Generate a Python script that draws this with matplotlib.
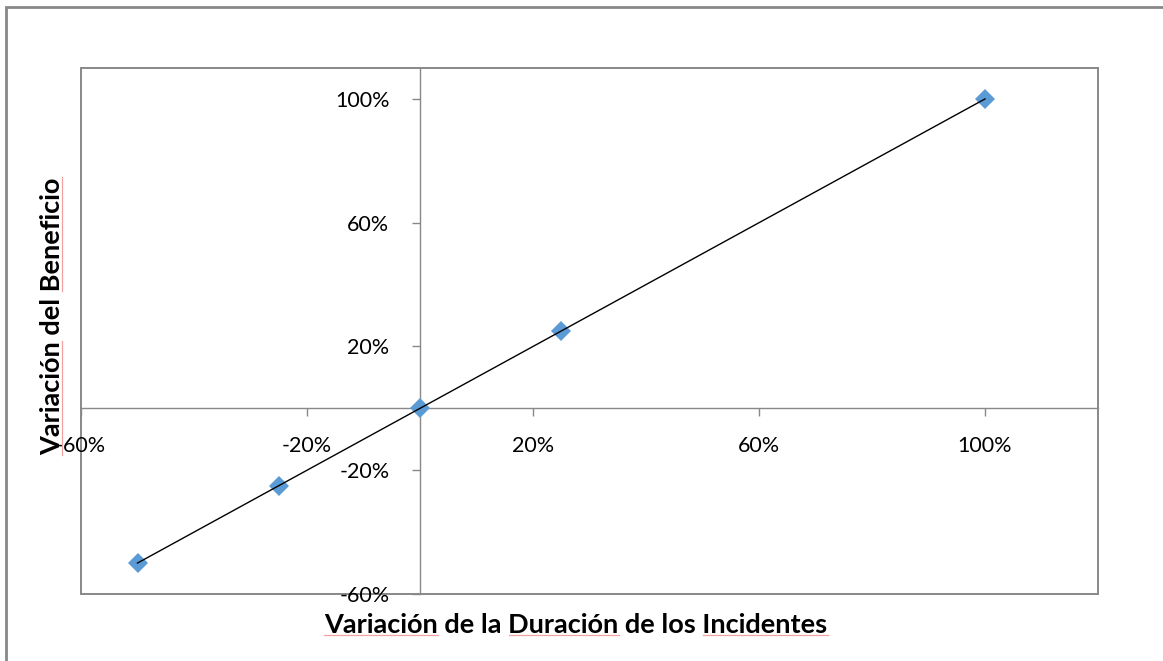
import matplotlib
matplotlib.use('Agg')
import matplotlib.pyplot as plt
from matplotlib.patches import Rectangle
from matplotlib.lines import Line2D
from matplotlib.transforms import IdentityTransform
from matplotlib.ticker import FixedLocator, FuncFormatter

# Data: relative change in incident duration vs. relative change in profit
duration_change = [-0.50, -0.25, 0.00, 0.25, 1.00]
profit_change = [-0.50, -0.25, 0.00, 0.25, 1.00]
x_ticks = [-0.6, -0.2, 0.2, 0.6, 1.0]
y_ticks = [-0.6, -0.2, 0.2, 0.6, 1.0]
x_title = "Variación de la Duración de los Incidentes"
y_title = "Variación del Beneficio"
x_underlined = ["Variación", "Duración", "Incidentes"]
y_underlined = ["Variación", "Beneficio"]

W, H = 1163, 661
plt.rcParams['font.family'] = ['Lato', 'DejaVu Sans']
GREY = '#888888'

fig = plt.figure(figsize=(W / 100, H / 100), dpi=100)
fig.patch.set_facecolor('white')

# outer chart frame (runs off the right and bottom edges)
fig.patches.append(Rectangle((6 / W, -0.1), 1.2, 1 - 7 / H + 0.1,
                             transform=fig.transFigure, fill=False,
                             ec=GREY, lw=2))

ax = fig.add_axes([81 / W, 1 - 594 / H, (1098 - 81) / W, (594 - 68) / H])
ax.set_xlim(-0.6, 1.2)
ax.set_ylim(-0.6, 1.1)

# axes cross at zero
ax.spines['left'].set_position(('data', 0))
ax.spines['bottom'].set_position(('data', 0))
for s in ('top', 'right'):
    ax.spines[s].set_visible(False)
for s in ('left', 'bottom'):
    ax.spines[s].set_color(GREY)
    ax.spines[s].set_linewidth(1.0)

# plot area border
ax.add_patch(Rectangle((0, 0), 1, 1, transform=ax.transAxes, fill=False,
                       ec=GREY, lw=1.4, clip_on=False, zorder=0.5))

pct = FuncFormatter(lambda v, pos: f"{int(round(v * 100))}%")
ax.xaxis.set_major_locator(FixedLocator(x_ticks))
ax.yaxis.set_major_locator(FixedLocator(y_ticks))
ax.xaxis.set_major_formatter(pct)
ax.yaxis.set_major_formatter(pct)
ax.tick_params(axis='x', direction='out', length=6, width=1, color=GREY,
               labelsize=15.5, pad=14)
ax.tick_params(axis='y', direction='out', length=6, width=1, color=GREY,
               labelsize=15.5, pad=16)

ax.plot(duration_change, profit_change, linestyle='none', marker='D',
        markersize=10.5, color='#5B9BD5', markeredgewidth=0, zorder=3)
ax.plot(duration_change, profit_change, color='black', lw=1.0, zorder=4)

tx = fig.text(576 / W, 1 - 625 / H, x_title, ha='center', va='center',
              fontsize=19.5, fontweight='bold')
ty = fig.text(52 / W, 1 - 316 / H, y_title, ha='center', va='center',
              rotation=90, fontsize=19.5, fontweight='bold')

# spell-check style underlines beneath selected words
fig.canvas.draw()
r = fig.canvas.get_renderer()


def word_spans(text_obj, words):
    s = text_obj.get_text()
    prop = text_obj.get_fontproperties()
    spans = []
    pos = 0
    for w in words:
        i = s.index(w, pos)
        full = r.get_text_width_height_descent(s[:i + len(w)], prop, ismath=False)[0]
        ww = r.get_text_width_height_descent(w, prop, ismath=False)[0]
        spans.append((full - ww, full))
        pos = i + len(w)
    return spans


def line_descent(text_obj):
    # matplotlib lays out a text line with the descent of "lp"
    return r.get_text_width_height_descent("lp", text_obj.get_fontproperties(),
                                           ismath=False)[2]


UL = '#f4a0a0'
bb = tx.get_window_extent(r)
base = bb.y0 + line_descent(tx) - 2
for a, b in word_spans(tx, x_underlined):
    fig.add_artist(Line2D([bb.x0 + a, bb.x0 + b], [base, base],
                          transform=IdentityTransform(), color=UL, lw=0.9))

bb = ty.get_window_extent(r)
base = bb.x1 - line_descent(ty) + 2
for a, b in word_spans(ty, y_underlined):
    fig.add_artist(Line2D([base, base], [bb.y0 + a, bb.y0 + b],
                          transform=IdentityTransform(), color=UL, lw=0.9))

fig.savefig('out.png', dpi=100, facecolor='white')
